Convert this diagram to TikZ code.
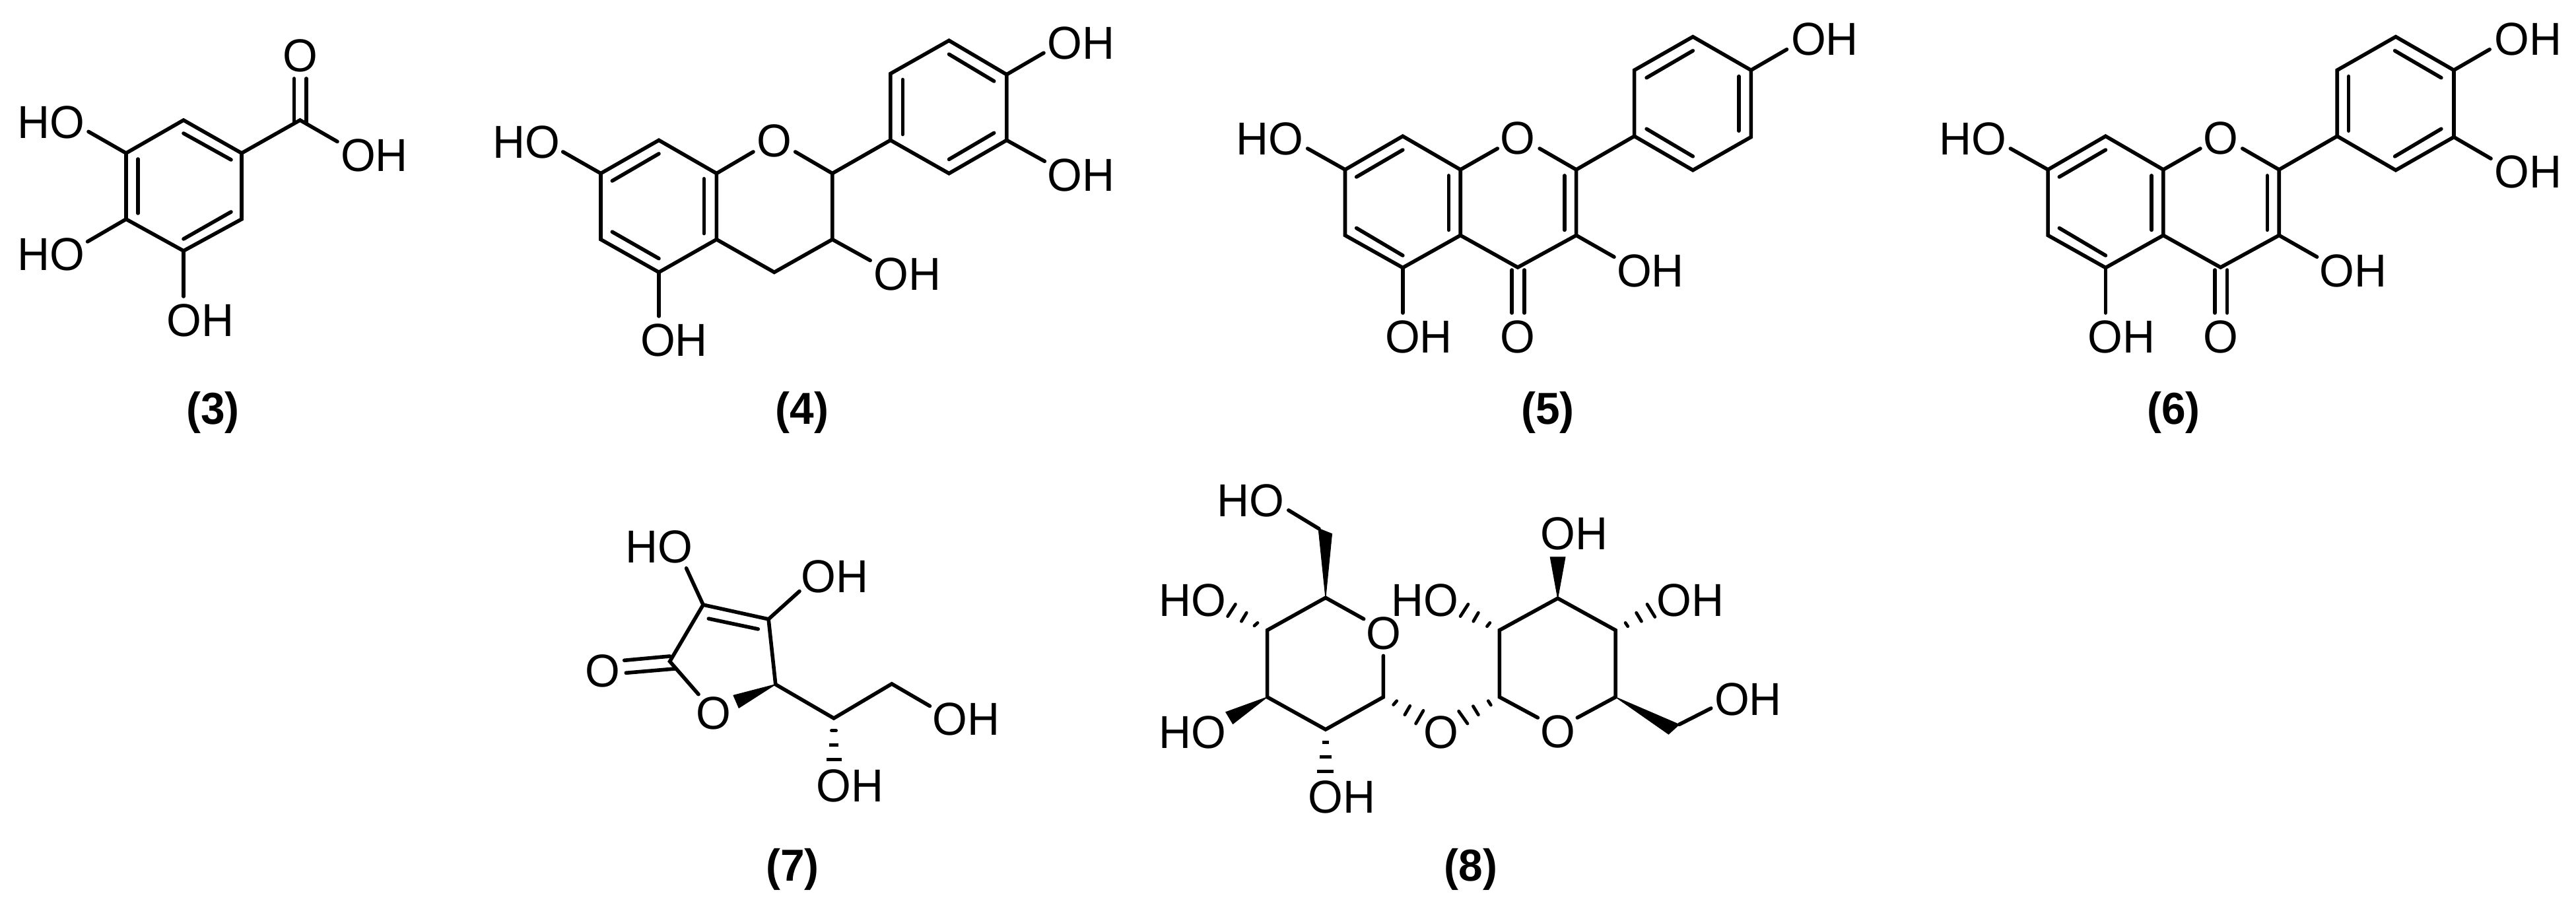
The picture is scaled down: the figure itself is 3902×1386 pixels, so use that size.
\documentclass[tikz,border=0pt]{standalone}
\usepackage{fontspec}
\setmainfont[FakeStretch=0.97]{Liberation Sans}
\tikzset{
  bond/.style={line width=0.056cm,line cap=round,line join=miter,black},
  inner bond/.style={bond},
  wedge bond/.style={fill=black,draw=black,line width=0.01cm,line join=miter},
  hash bond/.style={line width=0.048cm,line cap=round,black},
  atom/.style={inner sep=0pt,outer sep=0pt,font=\fontsize{19.9}{24}\selectfont},
  cap label/.style={inner sep=0pt,outer sep=0pt,font=\fontsize{19.3}{24}\selectfont\bfseries}
}
% shared benzopyran-4-one core of the two flavonols, with its phenyl ring
\newcommand{\flavcore}[1]{%
  \coordinate (#1a) at (2037.5,257);
  \coordinate (#1b) at (2124.8,206.3);
  \coordinate (#1c) at (2212.2,257);
  \coordinate (#1d) at (2212.2,356.5);
  \coordinate (#1e) at (2124.8,405.5);
  \coordinate (#1f) at (2037.5,356.5);
  \coordinate (#1g) at (2387.6,257);
  \coordinate (#1h) at (2387.6,356.5);
  \coordinate (#1i) at (2299,405);
  \coordinate (#1p1) at (2475.6,206.3);
  \coordinate (#1p2) at (2475.6,106.3);
  \coordinate (#1p3) at (2564.3,55.7);
  \coordinate (#1p4) at (2652.3,106.3);
  \coordinate (#1p5) at (2652.3,207.6);
  \coordinate (#1p6) at (2564.3,257.8);
  \node[atom] (#1O) at (2299,209.6) {O};
  \node[atom] (#1HO) at (1923.5,210) {HO};
  \node[atom] (#1OHc) at (2500,410) {OH};
  \node[atom] (#1OHb) at (2149,510) {OH};
  \node[atom] (#1Ok) at (2299,510) {O};
  \coordinate (#1Oe1) at (2268.3,225);
  \coordinate (#1Oe2) at (2332.1,225);
  \coordinate (#1HOe) at (1980.7,225);
  \coordinate (#1OHce) at (2445,389.2);
  \coordinate (#1OHbe) at (2124.8,474);
  \draw[bond] (#1a)--(#1b)--(#1c)--(#1d)--(#1e)--(#1f)--cycle;
  \draw[bond] (#1c)--(#1Oe1);
  \draw[bond] (#1Oe2)--(#1g)--(#1h)--(#1i)--(#1d);
  \draw[bond] (#1g)--(#1p1);
  \draw[bond] (#1p1)--(#1p2)--(#1p3)--(#1p4)--(#1p5)--(#1p6)--cycle;
  \draw[bond] (#1a)--(#1HOe);
  \draw[bond] (#1h)--(#1OHce);
  \draw[bond] (#1e)--(#1OHbe);
  \coordinate (#1in1) at (2054.7,268);
  \coordinate (#1in2) at (2124.8,227.1);
  \coordinate (#1in3) at (2194.4,266);
  \coordinate (#1in4) at (2194.4,348.4);
  \coordinate (#1in5) at (2054.7,345.5);
  \coordinate (#1in6) at (2124.8,387);
  \coordinate (#1in7) at (2369.7,266);
  \coordinate (#1in8) at (2369.7,348.4);
  \draw[inner bond] (#1in1)--(#1in2);
  \draw[inner bond] (#1in3)--(#1in4);
  \draw[inner bond] (#1in5)--(#1in6);
  \draw[inner bond] (#1in7)--(#1in8);
  \coordinate (#1k1) at (2290.2,409);
  \coordinate (#1k2) at (2290.2,474);
  \coordinate (#1k3) at (2309,409);
  \coordinate (#1k4) at (2309,474);
  \draw[bond] (#1k1)--(#1k2);
  \draw[bond] (#1k3)--(#1k4);
}
\begin{document}
\begin{tikzpicture}[x=0.01cm,y=-0.01cm]
\useasboundingbox (0,0) rectangle (3902,1386);
% ---------- (3) ----------
\coordinate (m3a) at (278,182);
\coordinate (m3b) at (366,232);
\coordinate (m3c) at (366,332);
\coordinate (m3d) at (278,380);
\coordinate (m3e) at (191,332);
\coordinate (m3f) at (191,232);
\coordinate (m3k) at (454.5,182);
\draw[bond] (m3a)--(m3b)--(m3c)--(m3d)--(m3e)--(m3f)--cycle;
\coordinate (m3i1) at (278,202); \coordinate (m3i2) at (350,242);
\coordinate (m3i3) at (209,241); \coordinate (m3i4) at (209,323);
\coordinate (m3i5) at (278,362); \coordinate (m3i6) at (350,321);
\draw[inner bond] (m3i1)--(m3i2);
\draw[inner bond] (m3i3)--(m3i4);
\draw[inner bond] (m3i5)--(m3i6);
\node[atom] (m3O) at (454.5,84) {O};
\node[atom] (m3OH1) at (567,235) {OH};
\node[atom] (m3HO1) at (77.5,185) {HO};
\node[atom] (m3HO2) at (77.5,385.5) {HO};
\node[atom] (m3OH2) at (303.5,485.5) {OH};
\coordinate (m3e1) at (511,214.5);
\coordinate (m3e2) at (134,199.4);
\coordinate (m3e3) at (132.6,366);
\coordinate (m3e4) at (278,449);
\coordinate (m3d1) at (445.5,119); \coordinate (m3d2) at (445.5,186);
\coordinate (m3d3) at (464,119); \coordinate (m3d4) at (464,186);
\draw[bond] (m3b)--(m3k)--(m3e1);
\draw[bond] (m3d1)--(m3d2);
\draw[bond] (m3d3)--(m3d4);
\draw[bond] (m3f)--(m3e2);
\draw[bond] (m3e)--(m3e3);
\draw[bond] (m3d)--(m3e4);
\node[cap label] (m3L) at (322.5,625) {(3)};
% ---------- (4) ----------
\coordinate (m4a) at (910,262.7);
\coordinate (m4b) at (998,212.4);
\coordinate (m4c) at (1085.4,262.7);
\coordinate (m4d) at (1085.4,362.7);
\coordinate (m4e) at (998,412.4);
\coordinate (m4f) at (910,362.7);
\coordinate (m4g) at (1260.8,262.7);
\coordinate (m4h) at (1260.8,362.7);
\coordinate (m4i) at (1172.8,412.4);
\coordinate (m4p1) at (1348.8,212.4);
\coordinate (m4p2) at (1348.8,111.6);
\coordinate (m4p3) at (1437.5,61.4);
\coordinate (m4p4) at (1524.8,112.9);
\coordinate (m4p5) at (1524.8,212.4);
\coordinate (m4p6) at (1437.5,262.7);
\node[atom] (m4O) at (1172.8,213.7) {O};
\node[atom] (m4HO) at (797,215) {HO};
\node[atom] (m4OH1) at (1637.4,65) {OH};
\node[atom] (m4OH2) at (1637.4,265) {OH};
\node[atom] (m4OH3) at (1374.4,415.6) {OH};
\node[atom] (m4OH4) at (1021,515) {OH};
\coordinate (m4x1) at (1141,230);
\coordinate (m4x2) at (1204.7,230);
\coordinate (m4x3) at (852.7,230);
\coordinate (m4x4) at (1581,80.2);
\coordinate (m4x5) at (1582.3,244.3);
\coordinate (m4x6) at (1318.2,394.5);
\coordinate (m4x7) at (998,479);
\draw[bond] (m4a)--(m4b)--(m4c)--(m4d)--(m4e)--(m4f)--cycle;
\draw[bond] (m4c)--(m4x1);
\draw[bond] (m4x2)--(m4g)--(m4h)--(m4i)--(m4d);
\draw[bond] (m4g)--(m4p1);
\draw[bond] (m4p1)--(m4p2)--(m4p3)--(m4p4)--(m4p5)--(m4p6)--cycle;
\draw[bond] (m4a)--(m4x3);
\draw[bond] (m4p4)--(m4x4);
\draw[bond] (m4p5)--(m4x5);
\draw[bond] (m4h)--(m4x6);
\draw[bond] (m4e)--(m4x7);
\coordinate (m4i1) at (927.3,274); \coordinate (m4i2) at (998,232.9);
\coordinate (m4i3) at (1066.3,270.8); \coordinate (m4i4) at (1066.3,353.7);
\coordinate (m4i5) at (927.3,351.2); \coordinate (m4i6) at (998,391.6);
\coordinate (m4i7) at (1367.3,120.6); \coordinate (m4i8) at (1367.3,203.5);
\coordinate (m4i9) at (1437.5,82.2); \coordinate (m4i10) at (1505.7,123);
\coordinate (m4i11) at (1505.7,201.4); \coordinate (m4i12) at (1437.5,241.4);
\draw[inner bond] (m4i1)--(m4i2);
\draw[inner bond] (m4i3)--(m4i4);
\draw[inner bond] (m4i5)--(m4i6);
\draw[inner bond] (m4i7)--(m4i8);
\draw[inner bond] (m4i9)--(m4i10);
\draw[inner bond] (m4i11)--(m4i12);
\node[cap label] (m4L) at (1215,625) {(4)};
% ---------- (5) ----------
\flavcore{m5}
\node[atom] (m5OH) at (2764,59) {OH};
\coordinate (m5x) at (2706.5,74.9);
\draw[bond] (m5p4)--(m5x);
\coordinate (m5i1) at (2494.1,117.8); \coordinate (m5i2) at (2564.3,76.9);
\coordinate (m5i3) at (2633.8,115.7); \coordinate (m5i4) at (2633.8,198.2);
\coordinate (m5i5) at (2494.1,195.3); \coordinate (m5i6) at (2564.3,236.9);
\draw[inner bond] (m5i1)--(m5i2);
\draw[inner bond] (m5i3)--(m5i4);
\draw[inner bond] (m5i5)--(m5i6);
\node[cap label] (m5L) at (2344.5,625) {(5)};
% ---------- (6) ----------
\begin{scope}[xshift=10.64cm]
\flavcore{m6}
\node[atom] (m6OH1) at (2764.6,59) {OH};
\node[atom] (m6OH2) at (2764.6,260.5) {OH};
\coordinate (m6x1) at (2706.5,74.9);
\coordinate (m6x2) at (2708.4,240.2);
\draw[bond] (m6p4)--(m6x1);
\draw[bond] (m6p5)--(m6x2);
\coordinate (m6i1) at (2492.9,115.7); \coordinate (m6i2) at (2492.9,198.2);
\coordinate (m6i3) at (2563,76.9); \coordinate (m6i4) at (2633.2,117.8);
\coordinate (m6i5) at (2633.2,195.3); \coordinate (m6i6) at (2563,236.9);
\draw[inner bond] (m6i1)--(m6i2);
\draw[inner bond] (m6i3)--(m6i4);
\draw[inner bond] (m6i5)--(m6i6);
\node[cap label] (m6L) at (2228,625) {(6)};
\end{scope}
% ---------- (7) ----------
\coordinate (m7a) at (1065.1,916.1);
\coordinate (m7b) at (1164.1,937.9);
\coordinate (m7c) at (1174.8,1036.7);
\coordinate (m7d) at (1014.6,1001.9);
\coordinate (m7e) at (1263,1088);
\coordinate (m7f) at (1350.8,1035.9);
\node[atom] (m7O) at (1081,1080) {O};
\node[atom] (m7Ok) at (912.5,1016.7) {O};
\node[atom] (m7HO) at (998.8,828.6) {HO};
\node[atom] (m7OH1) at (1264.6,873.6) {OH};
\node[atom] (m7OH2) at (1463.6,1089) {OH};
\node[atom] (m7OH3) at (1287.6,1190) {OH};
\coordinate (m7x1) at (1058,1051.7);
\coordinate (m7x2) at (1408.5,1069.5);
\coordinate (m7x3) at (1039.6,860.8);
\coordinate (m7x4) at (1211,895.6);
\coordinate (m7w1) at (1111,1053.3);
\coordinate (m7w2) at (1119.2,1072.3);
\draw[bond] (m7x1)--(m7d)--(m7a)--(m7b)--(m7c)--(m7e)--(m7f)--(m7x2);
\draw[bond] (m7a)--(m7x3);
\draw[bond] (m7b)--(m7x4);
\coordinate (m7i1) at (1073.3,937.1); \coordinate (m7i2) at (1148.3,952.9);
\draw[inner bond] (m7i1)--(m7i2);
\coordinate (m7k1) at (945.7,1000.3); \coordinate (m7k2) at (1014.6,994);
\coordinate (m7k3) at (948.3,1019.3); \coordinate (m7k4) at (1022.2,1013);
\draw[bond] (m7k1)--(m7k2);
\draw[bond] (m7k3)--(m7k4);
\draw[wedge bond] (m7c)--(m7w1)--(m7w2)--cycle;
\coordinate (m7h1) at (1259.4,1106.6); \coordinate (m7h2) at (1266.6,1106.6);
\coordinate (m7h3) at (1256,1128.8); \coordinate (m7h4) at (1270,1128.8);
\coordinate (m7h5) at (1251.5,1150.5); \coordinate (m7h6) at (1274.5,1150.5);
\draw[hash bond] (m7h1)--(m7h2);
\draw[hash bond,line cap=butt] (m7h3)--(m7h4);
\draw[hash bond,line cap=butt] (m7h5)--(m7h6);
\node[cap label] (m7L) at (1200.6,1317) {(7)};
% ---------- (8) ----------
\coordinate (m8a) at (2007.9,905.4);
\coordinate (m8b) at (1919.6,954.6);
\coordinate (m8c) at (1919.6,1055.9);
\coordinate (m8d) at (2007.9,1105);
\coordinate (m8e) at (2095.4,1055.9);
\node[atom] (m8O) at (2095.4,959) {O};
\coordinate (m8x1) at (2065.7,937.6);
\coordinate (m8x2) at (2095.4,993.4);
\draw[bond] (m8x1)--(m8a)--(m8b)--(m8c)--(m8d)--(m8e)--(m8x2);
\coordinate (m8w1) at (1997.1,800.5);
\coordinate (m8w2) at (2017.5,808.6);
\draw[wedge bond] (m8a)--(m8w1)--(m8w2)--cycle;
\coordinate (m8t) at (1998,801);
\coordinate (m8x3) at (1951.8,772.9);
\draw[bond] (m8t)--(m8x3);
\node[atom] (m8HO1) at (1894.5,758.6) {HO};
\node[atom] (m8HO2) at (1806.5,909.5) {HO};
\node[atom] (m8HO3) at (1806.5,1109) {HO};
\node[atom] (m8OH1) at (2032.3,1207) {OH};
\node[atom] (m8Og) at (2183.2,1109) {O};
\node[atom] (m8HO4) at (2158.2,909.5) {HO};
\coordinate (m8h1) at (1900,947.9); \coordinate (m8h2) at (1905,943.4);
\coordinate (m8h3) at (1880.4,941.2); \coordinate (m8h4) at (1888.2,928.2);
\coordinate (m8h5) at (1859.6,933.6); \coordinate (m8h6) at (1871.4,915.3);
\draw[hash bond] (m8h1)--(m8h2);
\draw[hash bond] (m8h3)--(m8h4);
\draw[hash bond] (m8h5)--(m8h6);
\coordinate (m8w3) at (1856.8,1078.7);
\coordinate (m8w4) at (1867.5,1096.5);
\draw[wedge bond] (m8c)--(m8w3)--(m8w4)--cycle;
\coordinate (m8h7) at (2002.5,1124.6); \coordinate (m8h8) at (2013.3,1124.6);
\coordinate (m8h9) at (1999,1146.5); \coordinate (m8h10) at (2016.8,1146.5);
\coordinate (m8h11) at (1995.4,1168.8); \coordinate (m8h12) at (2020.4,1168.8);
\draw[hash bond,line cap=butt] (m8h7)--(m8h8);
\draw[hash bond,line cap=butt] (m8h9)--(m8h10);
\draw[hash bond,line cap=butt] (m8h11)--(m8h12);
\coordinate (m8h13) at (2110.7,1067.5); \coordinate (m8h14) at (2115.7,1061.7);
\coordinate (m8h15) at (2127.9,1082.7); \coordinate (m8h16) at (2135.7,1069.3);
\coordinate (m8h17) at (2144.6,1096.1); \coordinate (m8h18) at (2156,1076.4);
\draw[hash bond] (m8h13)--(m8h14);
\draw[hash bond] (m8h15)--(m8h16);
\draw[hash bond] (m8h17)--(m8h18);
\coordinate (m8h19) at (2254.3,1061.7); \coordinate (m8h20) at (2258.3,1068);
\coordinate (m8h21) at (2231.4,1069.7); \coordinate (m8h22) at (2239.3,1082.7);
\coordinate (m8h23) at (2209.6,1077.3); \coordinate (m8h24) at (2222.9,1096.1);
\draw[hash bond] (m8h19)--(m8h20);
\draw[hash bond] (m8h21)--(m8h22);
\draw[hash bond] (m8h23)--(m8h24);
\coordinate (m8h25) at (2252.5,948.8); \coordinate (m8h26) at (2256.8,943.4);
\coordinate (m8h27) at (2231.8,941.2); \coordinate (m8h28) at (2239.3,928.2);
\coordinate (m8h29) at (2212.1,933.6); \coordinate (m8h30) at (2223.9,915.3);
\draw[hash bond] (m8h25)--(m8h26);
\draw[hash bond] (m8h27)--(m8h28);
\draw[hash bond] (m8h29)--(m8h30);
% right ring
\coordinate (m8r1) at (2271.4,954.6);
\coordinate (m8r2) at (2271.4,1055.9);
\coordinate (m8r3) at (2447.1,1055.9);
\coordinate (m8r4) at (2447.1,954.6);
\coordinate (m8r5) at (2359.6,906.3);
\node[atom] (m8Or) at (2359.6,1108.6) {O};
\coordinate (m8y1) at (2329.3,1087.1);
\coordinate (m8y2) at (2389.3,1087.1);
\draw[bond] (m8y1)--(m8r2)--(m8r1)--(m8r5)--(m8r4)--(m8r3)--(m8y2);
\node[atom] (m8OH2) at (2384.3,808.8) {OH};
\node[atom] (m8OH3) at (2560.5,909.5) {OH};
\node[atom] (m8OH4) at (2648,1059) {OH};
\coordinate (m8w5) at (2348.2,843.8);
\coordinate (m8w6) at (2371,843.8);
\draw[wedge bond] (m8r5)--(m8w5)--(m8w6)--cycle;
\coordinate (m8h31) at (2462.1,943.4); \coordinate (m8h32) at (2465.7,948.8);
\coordinate (m8h33) at (2478.6,928.2); \coordinate (m8h34) at (2486.4,941.2);
\coordinate (m8h35) at (2495,915.3); \coordinate (m8h36) at (2506.8,934.5);
\draw[hash bond] (m8h31)--(m8h32);
\draw[hash bond] (m8h33)--(m8h34);
\draw[hash bond] (m8h35)--(m8h36);
\coordinate (m8w7) at (2543.6,1097.4);
\coordinate (m8w8) at (2527.5,1112.1);
\draw[wedge bond] (m8r3)--(m8w7)--(m8w8)--cycle;
\coordinate (m8y3) at (2591.8,1072.9);
\draw[bond] (m8w7)--(m8y3);
\node[cap label] (m8L) at (2228,1317) {(8)};
\end{tikzpicture}
\end{document}
